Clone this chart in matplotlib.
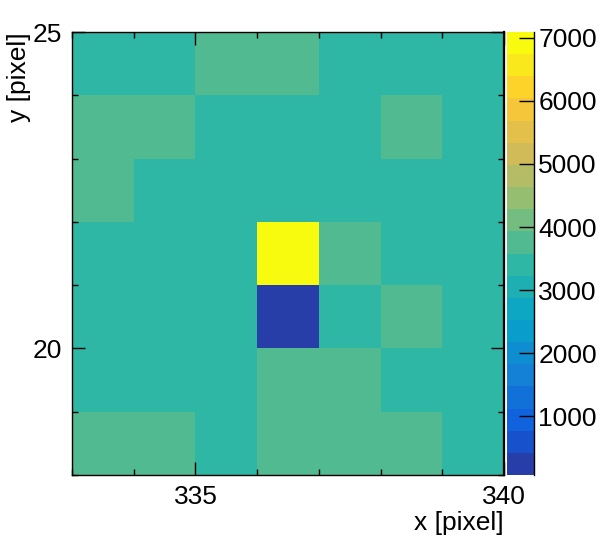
import numpy as np
import matplotlib
matplotlib.use("Agg")
import matplotlib.pyplot as plt
from matplotlib.colors import LinearSegmentedColormap, ListedColormap, BoundaryNorm

plt.rcParams["font.family"] = ["Liberation Sans", "DejaVu Sans"]

# pixel grid (bin edges) and counts, rows from y=18 upward
x_edges = [333, 334, 335, 336, 337, 338, 339, 340]
y_edges = [18, 19, 20, 21, 22, 23, 24, 25]
counts = [
    [3750, 3750, 3400, 3750, 3750, 3750, 3400],  # y 18-19
    [3400, 3400, 3400, 3750, 3750, 3400, 3400],  # y 19-20
    [3400, 3400, 3400, 64, 3400, 3750, 3400],    # y 20-21
    [3400, 3400, 3400, 7095, 3750, 3400, 3400],  # y 21-22
    [3750, 3400, 3400, 3400, 3400, 3400, 3400],  # y 22-23
    [3750, 3750, 3400, 3400, 3400, 3750, 3400],  # y 23-24
    [3400, 3400, 3750, 3750, 3400, 3400, 3400],  # y 24-25
]
cbar_ticks = [1000, 2000, 3000, 4000, 5000, 6000, 7000]

# ROOT kBird palette, 20 contour levels
stops = [0.0, 0.125, 0.25, 0.375, 0.5, 0.625, 0.75, 0.875, 1.0]
red = [0.2082, 0.0592, 0.0780, 0.0232, 0.1802, 0.5301, 0.8186, 0.9956, 0.9764]
green = [0.1664, 0.3599, 0.5041, 0.6419, 0.7178, 0.7492, 0.7328, 0.7862, 0.9832]
blue = [0.5293, 0.8684, 0.8385, 0.7914, 0.6425, 0.4662, 0.3499, 0.1968, 0.0539]
bird = LinearSegmentedColormap.from_list(
    "bird", list(zip(stops, zip(red, green, blue))), N=255)
ncont = 20
band_colors = [bird(int((i + 0.99) * 255 / ncont) / 254) for i in range(ncont)]
cmap = ListedColormap(band_colors)

z = np.array(counts, dtype=float)
zmin, zmax = z.min(), z.max()
levels = np.linspace(zmin, zmax, ncont + 1)
norm = BoundaryNorm(levels, cmap.N)

fig = plt.figure(figsize=(6, 5.4), dpi=100)
ax = fig.add_axes([72 / 600, 65 / 540, 432 / 600, 443 / 540])
cax = fig.add_axes([507 / 600, 65 / 540, 27 / 600, 443 / 540])

mesh = ax.pcolormesh(x_edges, y_edges, z, cmap=cmap, norm=norm)

ax.set_xlim(333, 340)
ax.set_ylim(18, 25)
ax.set_xticks([335, 340])
ax.set_yticks([20, 25])
ax.set_xticks([333, 334, 336, 337, 338, 339], minor=True)
ax.set_yticks([18, 19, 21, 22, 23, 24], minor=True)
ax.tick_params(which="both", direction="in", top=True, right=True,
               labelsize=19, width=1)
ax.tick_params(which="major", length=9.5, pad=7)
ax.tick_params(which="minor", length=4.5)
for s in ax.spines.values():
    s.set_linewidth(1)
ax.spines["right"].set_linewidth(1.6)

cb = fig.colorbar(mesh, cax=cax, ticks=cbar_ticks)
cb.outline.set_visible(False)
cax.tick_params(direction="in", length=11, width=1, labelsize=19, pad=3)
cax.minorticks_off()
cax.plot([1, 1], [0, 1], transform=cax.transAxes, color="black",
         lw=1, clip_on=False)

fig.text(504 / 600, 10 / 540, "x [pixel]", ha="right", va="baseline",
         fontsize=19)
fig.text(19 / 600, 508 / 540, "y [pixel]", ha="center", va="top",
         rotation=90, fontsize=19)

fig.savefig("out.png", dpi=100)
